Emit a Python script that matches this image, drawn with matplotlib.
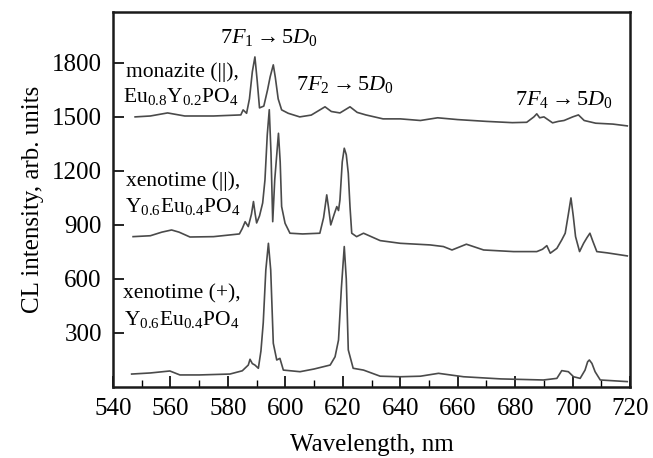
import numpy as np
import matplotlib
matplotlib.use('Agg')
from matplotlib import pyplot as plt
from matplotlib.ticker import MultipleLocator

plt.rcParams['font.family'] = ['Liberation Serif', 'DejaVu Serif']
plt.rcParams['mathtext.fontset'] = 'custom'
plt.rcParams['mathtext.rm'] = 'Liberation Serif'
plt.rcParams['mathtext.it'] = 'Liberation Serif:italic'

# monazite (||), Eu0.8Y0.2PO4
wl_mon = [547.7, 553, 559, 565, 575, 584.5, 585.3, 586.5, 587.5, 588.5, 589.4, 590.2, 591,
          592.5, 593.8, 594.7, 595.8, 596.5, 597.5, 598.7, 601, 605, 609, 613.8, 616, 619,
          622.5, 625, 628, 634, 640, 647, 653, 660, 670, 679, 684, 686.5, 687.5, 688.5, 690,
          693, 695, 697, 700, 702, 704, 708, 714, 719]
cl_mon = [1500, 1505, 1522, 1505, 1505, 1511, 1539, 1520, 1600, 1750, 1833, 1700, 1550,
          1560, 1650, 1722, 1789, 1720, 1600, 1539, 1520, 1500, 1510, 1556, 1530, 1522,
          1556, 1525, 1511, 1489, 1489, 1480, 1495, 1485, 1475, 1468, 1470, 1500, 1517, 1495, 1500,
          1467, 1475, 1480, 1500, 1511, 1480, 1465, 1460, 1450]

# xenotime (||), Y0.6Eu0.4PO4
wl_xpar = [547, 553, 557, 560.4, 563, 566.8, 575, 584, 585, 586, 587.1, 588.2, 588.9, 589.5,
           590, 591, 592.1, 592.9, 593.7, 594.4, 595, 595.6, 596.3, 597.6, 598.2, 598.7, 599.9,
           601.6, 606, 612, 613.3, 614.4, 615, 615.8, 617, 617.9, 618.5, 619, 619.8, 620.5,
           621.2, 621.9, 622.5, 623.1, 624.8, 627.2, 633, 640, 650.4, 655, 658, 663, 669,
           679.4, 687.5, 689.5, 691, 692.2, 694.5, 696.2, 697.4, 698.5, 699.4, 700.2, 701,
           702.4, 703.8, 705, 706, 707, 708.4, 712, 719]
cl_xpar = [835, 840, 860, 872, 860, 833, 835, 850, 880, 918, 891, 960, 1030, 960,
           911, 950, 1022, 1150, 1400, 1540, 1300, 918, 1150, 1409, 1250, 1002, 909,
           854, 850, 854, 940, 1067, 1000, 900, 960, 1002, 980, 1039, 1250, 1326,
           1290, 1187, 1000, 854, 835, 854, 813, 798, 789, 780, 761, 793, 761,
           752, 752, 765, 785, 743, 770, 817, 854, 960, 1050, 950, 835,
           752, 798, 830, 854, 810, 752, 745, 728]

# xenotime (+), Y0.6Eu0.4PO4
wl_xperp = [546.5, 553, 559.8, 563.3, 570, 580.7, 585, 587.1, 587.7, 588.5, 589.4, 590.6,
            591.5, 592.3, 593.2, 594.1, 594.9, 595.8, 597, 598.1, 599.3, 605.1, 610, 615.6,
            617.3, 618.5, 619.5, 620.5, 621.2, 621.9, 623.6, 627.2, 633, 640, 647, 653.3,
            662, 675, 689.8, 694.5, 696.2, 698.5, 700.3, 702.6, 704.3, 705.2, 705.8, 706.7,
            707.8, 709.6, 719]
cl_xperp = [72, 78, 89, 67, 67, 72, 90, 122, 154, 130, 122, 104,
            200, 356, 650, 798, 650, 243, 150, 159, 94, 85, 100, 122,
            168, 261, 550, 780, 600, 206, 104, 94, 60, 57, 60, 76,
            57, 45, 39, 48, 91, 85, 57, 48, 94, 140, 150, 131,
            85, 39, 30]

fig = plt.figure(figsize=(6.53, 4.58), dpi=100)
ax = fig.add_axes([0.173, 0.155, 0.792, 0.819])

line_color = '#4a4a4a'
ax.plot(wl_mon, cl_mon, color=line_color, lw=1.2)
ax.plot(wl_xpar, cl_xpar, color=line_color, lw=1.2)
ax.plot(wl_xperp, cl_xperp, color=line_color, lw=1.2)

ax.set_xlim(540, 720)
ax.set_ylim(0, 2083)
ax.xaxis.set_major_locator(MultipleLocator(20))
ax.xaxis.set_minor_locator(MultipleLocator(10))
ax.set_yticks([300, 600, 900, 1200, 1500, 1800])
ax.tick_params(axis='both', which='major', direction='in', length=8, width=1.2,
               labelsize=18, pad=8, top=False, right=False)
ax.tick_params(axis='x', which='minor', direction='in', length=5, width=1.0, top=False)
for sp in ax.spines.values():
    sp.set_linewidth(1.8)
    sp.set_color('#1a1a1a')

ax.set_xlabel('Wavelength, nm', fontsize=18, labelpad=10)
ax.set_ylabel('CL intensity, arb. units', fontsize=18, labelpad=6)

fs = 15.5
ax.text(544.5, 1720, 'monazite (||),', fontsize=fs)
ax.text(543.4, 1585, r'Eu$_{0.8}$Y$_{0.2}$PO$_4$', fontsize=fs)
ax.text(544.5, 1117, 'xenotime (||),', fontsize=fs)
ax.text(544.2, 974, r'Y$_{0.6}$Eu$_{0.4}$PO$_4$', fontsize=fs)
ax.text(543.6, 493, 'xenotime (+),', fontsize=fs)
ax.text(544.0, 344, r'Y$_{0.6}$Eu$_{0.4}$PO$_4$', fontsize=fs)

ft = 16
ax.text(594.3, 1911, r'$7F_1 \rightarrow 5D_0$', fontsize=ft, ha='center')
ax.text(620.8, 1650, r'$7F_2 \rightarrow 5D_0$', fontsize=ft, ha='center')
ax.text(697.0, 1567, r'$7F_4 \rightarrow 5D_0$', fontsize=ft, ha='center')

fig.savefig('out.png', dpi=100)
